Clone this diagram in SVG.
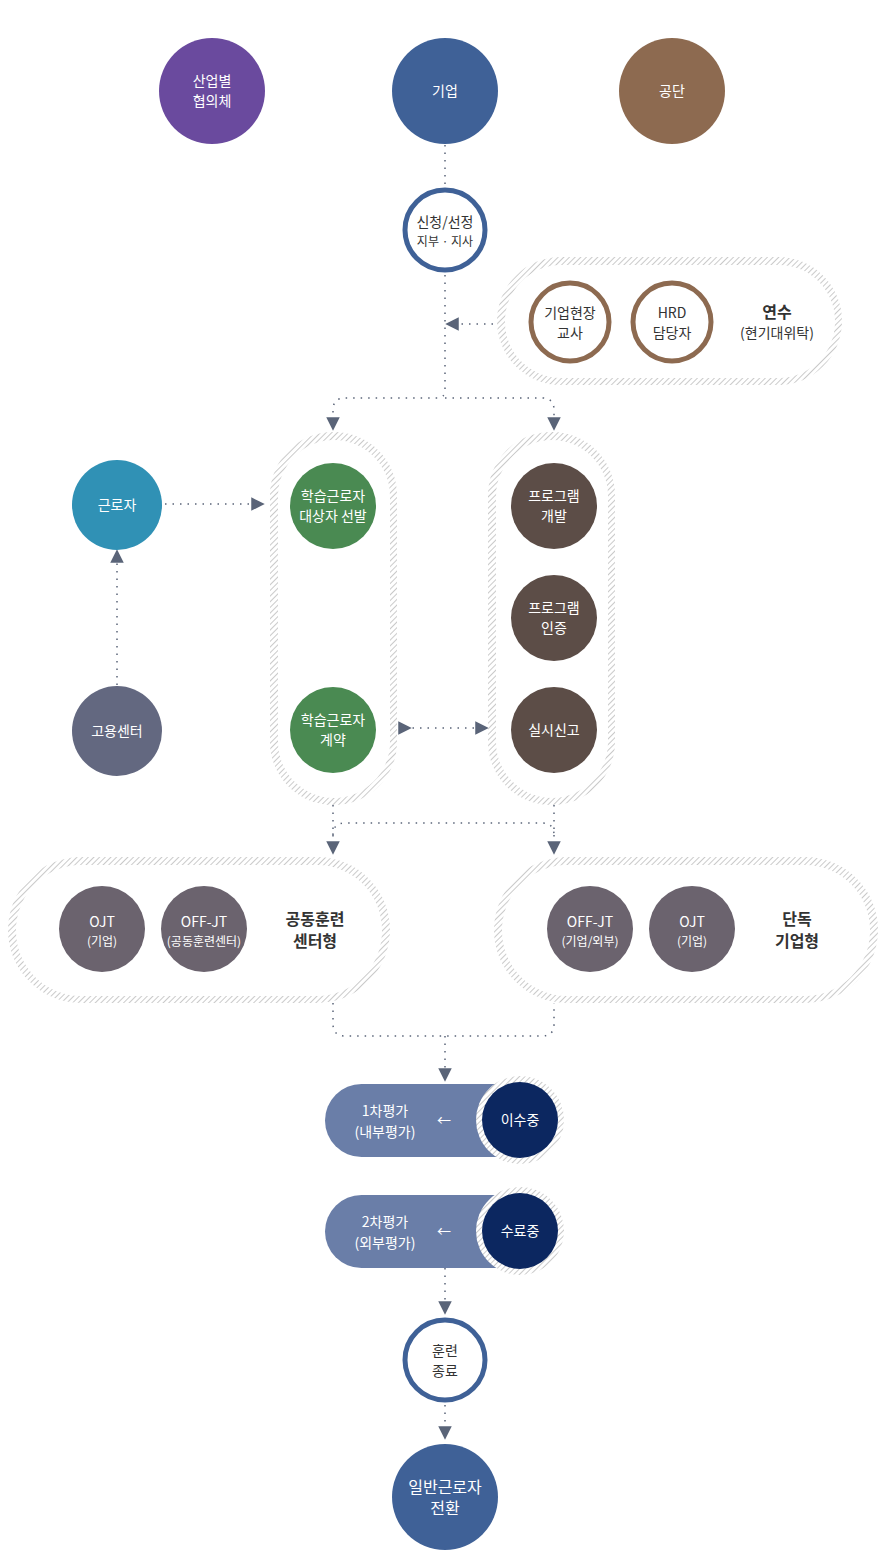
<svg xmlns="http://www.w3.org/2000/svg" width="885" height="1563" viewBox="0 0 885 1563">
<style>
text{font-family:"Noto Sans CJK KR","Noto Sans",sans-serif;text-anchor:middle;font-size:14px;fill:#fff}
.d{fill:#333}
.b{font-weight:bold;font-size:16px}
.s{font-size:12px}
.c{fill:none;stroke:#5a6478;stroke-width:1.5;stroke-dasharray:1.5 6}
</style>
<defs>
<pattern id="h" width="4" height="4" patternUnits="userSpaceOnUse" patternTransform="rotate(45)"><rect width="4" height="4" fill="#fff"/><line x1="0" y1="0" x2="0" y2="4" stroke="#b8b8b8" stroke-width="1.5"/></pattern>
<marker id="a" viewBox="0 0 10 10" refX="5" refY="5" markerWidth="9" markerHeight="9" orient="auto"><path d="M0,0L10,5L0,10z" fill="#5a6478"/></marker>
</defs>
<g id="connectors">
<path class="c" d="M445,145V185"/>
<path class="c" d="M445,275V390Q445,398 437,398H345Q333,398 333,410V424" marker-end="url(#a)"/>
<path class="c" d="M445,398H542Q554,398 554,410V424" marker-end="url(#a)"/>
<path class="c" d="M493,324H452" marker-end="url(#a)"/>
<path class="c" d="M165,504H258" marker-end="url(#a)"/>
<path class="c" d="M117,685V556" marker-end="url(#a)"/>
<path class="c" d="M333,553V680" marker-end="url(#a)"/>
<path class="c" d="M405,728H482" marker-end="url(#a)" marker-start="url(#a)"/>
<path fill="#5a6478" d="M550,559h8l-4,7z M550,669h8l-4,7z"/>
<path class="c" d="M333,805V848" marker-end="url(#a)"/>
<path class="c" d="M554,805V848" marker-end="url(#a)"/>
<path class="c" d="M333,835Q333,823 345,823H542Q554,823 554,835"/>
<path class="c" d="M333,1003V1024Q333,1036 345,1036H542Q554,1036 554,1024V1003"/>
<path class="c" d="M445,1036V1075" marker-end="url(#a)"/>
<path class="c" d="M445,1268V1308" marker-end="url(#a)"/>
<path class="c" d="M445,1405V1433" marker-end="url(#a)"/>
</g>
<g id="pills">
<rect x="497" y="257" width="345" height="128" rx="64" fill="url(#h)"/><rect x="505" y="265" width="330" height="113" rx="56" fill="#fff"/>
<rect x="270" y="432" width="127" height="373" rx="63" fill="url(#h)"/><rect x="278" y="440" width="112" height="358" rx="56" fill="#fff"/>
<rect x="488" y="432" width="127" height="373" rx="63" fill="url(#h)"/><rect x="496" y="440" width="112" height="358" rx="56" fill="#fff"/>
<rect x="8" y="857" width="382" height="146" rx="73" fill="url(#h)"/><rect x="16" y="865" width="366" height="131" rx="65" fill="#fff"/>
<rect x="494" y="857" width="384" height="146" rx="73" fill="url(#h)"/><rect x="502" y="865" width="368" height="131" rx="65" fill="#fff"/>
</g>
<g id="n1"><circle cx="212" cy="91" r="53" fill="#6a4a9e"/><text x="212" y="86">산업별</text><text x="212" y="106">협의체</text></g>
<g id="n2"><circle cx="445" cy="91" r="53" fill="#3f6197"/><text x="445" y="96">기업</text></g>
<g id="n3"><circle cx="672" cy="91" r="53" fill="#8d6a50"/><text x="672" y="96">공단</text></g>
<g id="n4"><circle cx="445" cy="230" r="40" fill="#fff" stroke="#3f6197" stroke-width="5"/><text class="d" x="445" y="227">신청/선정</text><text class="d s" x="445" y="246">지부 · 지사</text></g>
<g id="n5"><circle cx="570" cy="322" r="39" fill="#fff" stroke="#8d6a50" stroke-width="5"/><text class="d" x="570" y="318">기업현장</text><text class="d" x="570" y="338">교사</text></g>
<g id="n6"><circle cx="672" cy="322" r="39" fill="#fff" stroke="#8d6a50" stroke-width="5"/><text class="d" x="672" y="318">HRD</text><text class="d" x="672" y="338">담당자</text></g>
<g id="n7"><text class="d b" x="777" y="318">연수</text><text class="d" x="777" y="338">(현기대위탁)</text></g>
<g id="n8"><circle cx="117" cy="505" r="45" fill="#3091b5"/><text x="117" y="510">근로자</text></g>
<g id="n9"><circle cx="117" cy="731" r="45" fill="#636880"/><text x="117" y="736">고용센터</text></g>
<g id="n10"><circle cx="333" cy="506" r="43" fill="#4a8a52"/><text x="333" y="501">학습근로자</text><text x="333" y="521">대상자 선발</text></g>
<g id="n11"><circle cx="333" cy="730" r="43" fill="#4a8a52"/><text x="333" y="725">학습근로자</text><text x="333" y="745">계약</text></g>
<g id="n12"><circle cx="554" cy="506" r="43" fill="#5c4d47"/><text x="554" y="501">프로그램</text><text x="554" y="521">개발</text></g>
<g id="n13"><circle cx="554" cy="618" r="43" fill="#5c4d47"/><text x="554" y="613">프로그램</text><text x="554" y="633">인증</text></g>
<g id="n14"><circle cx="554" cy="730" r="43" fill="#5c4d47"/><text x="554" y="735">실시신고</text></g>
<g id="n15"><circle cx="102" cy="929" r="43" fill="#6b636e"/><text x="102" y="927">OJT</text><text class="s" x="102" y="946">(기업)</text></g>
<g id="n16"><circle cx="204" cy="929" r="43" fill="#6b636e"/><text x="204" y="927">OFF-JT</text><text class="s" x="204" y="946">(공동훈련센터)</text></g>
<g id="n17"><text class="d b" x="315" y="925">공동훈련</text><text class="d b" x="315" y="947">센터형</text></g>
<g id="n18"><circle cx="590" cy="929" r="43" fill="#6b636e"/><text x="590" y="927">OFF-JT</text><text class="s" x="590" y="946">(기업/외부)</text></g>
<g id="n19"><circle cx="692" cy="929" r="43" fill="#6b636e"/><text x="692" y="927">OJT</text><text class="s" x="692" y="946">(기업)</text></g>
<g id="n20"><text class="d b" x="797" y="925">단독</text><text class="d b" x="797" y="947">기업형</text></g>
<g id="n21"><rect x="325" y="1084" width="215" height="73" rx="36.5" fill="#6a7ea8"/><circle cx="520" cy="1120" r="44" fill="url(#h)"/><circle cx="520" cy="1120" r="38" fill="#0c2760"/><text x="385" y="1116">1차평가</text><text x="385" y="1137">(내부평가)</text><text x="444" y="1125">←</text><text x="520" y="1125">이수중</text></g>
<g id="n22"><rect x="325" y="1195" width="215" height="73" rx="36.5" fill="#6a7ea8"/><circle cx="520" cy="1231" r="44" fill="url(#h)"/><circle cx="520" cy="1231" r="38" fill="#0c2760"/><text x="385" y="1227">2차평가</text><text x="385" y="1248">(외부평가)</text><text x="444" y="1236">←</text><text x="520" y="1236">수료중</text></g>
<g id="n23"><circle cx="445" cy="1360" r="40" fill="#fff" stroke="#3f6197" stroke-width="5"/><text class="d" x="445" y="1356">훈련</text><text class="d" x="445" y="1376">종료</text></g>
<g id="n24"><circle cx="445" cy="1497" r="53" fill="#3f6197"/><text x="445" y="1493" style="font-size:16px">일반근로자</text><text x="445" y="1514" style="font-size:16px">전환</text></g>
</svg>
